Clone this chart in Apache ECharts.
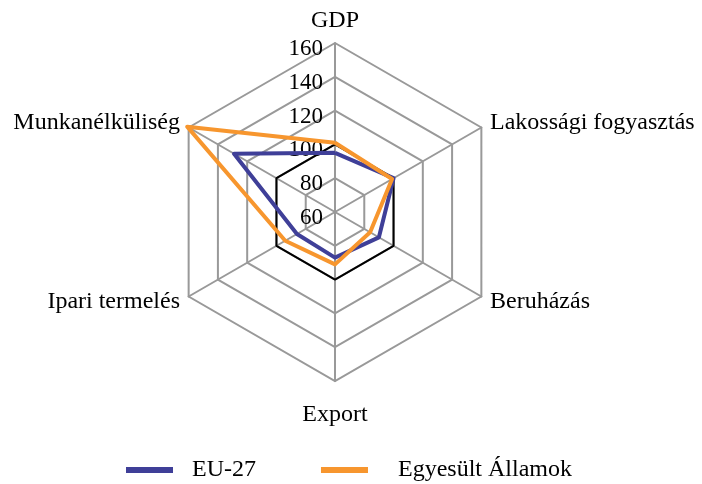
<!DOCTYPE html>
<html>
<head>
<meta charset="utf-8">
<title>Radar</title>
<script src="https://cdn.jsdelivr.net/npm/echarts@6/dist/echarts.min.js"></script>
<style>
  html, body { margin: 0; padding: 0; background: #fff; }
  #container { width: 702px; height: 484px; }
</style>
</head>
<body>
<div id="container"></div>
<script type="text/javascript">
	// indicators in ECharts order (counter-clockwise from the top)
	var indicators = ['GDP', 'Munkanélküliség', 'Ipari termelés', 'Export', 'Beruházás', 'Lakossági fogyasztás'];
	var euValues = [95, 129, 86, 87, 90, 100];
	var usValues = [101, 161, 94, 91, 84, 99];
	var baseValues = [100, 100, 100, 100, 100, 100];
	var seriesNames = ['EU-27', 'Egyesült Államok'];

	var font = '"Liberation Serif", "DejaVu Serif", serif';
	var myChart = echarts.init(document.getElementById('container'));

	var option = {
		animation: false,
		textStyle: { fontFamily: font },
		legend: {
			bottom: -3,
			left: 121,
			itemWidth: 47,
			itemHeight: 6,
			itemGap: 65,
			textStyle: { fontFamily: font, fontSize: 24, color: '#000', padding: [0, 0, 0, 14] },
			data: [
				{ name: seriesNames[0], icon: 'rect' },
				{ name: seriesNames[1], icon: 'rect', textStyle: { padding: [0, 0, 0, 25] } }
			]
		},
		radar: {
			center: [335, 212],
			radius: 169,
			startAngle: 90,
			splitNumber: 5,
			shape: 'polygon',
			nameGap: 10,
			axisName: {
				color: '#000', fontFamily: font, fontSize: 24,
				formatter: function (n) { return n === 'Export' ? '{low|' + n + '}' : n; },
				rich: { low: { fontFamily: font, fontSize: 24, color: '#000', padding: [12, 0, 0, 0] } }
			},
			axisLine: { lineStyle: { color: '#999', width: 2 } },
			splitLine: { lineStyle: { color: '#999', width: 2 } },
			splitArea: { show: false },
			axisLabel: { show: false },
			indicator: indicators.map(function (n, i) {
				var ind = { name: n, min: 60, max: 160 };
				if (i === 0) {
					ind.axisLabel = {
						show: true, margin: 12,
						formatter: '{t|{value}}',
						rich: { t: { color: '#000', fontFamily: font, fontSize: 23, padding: [12, 0, 0, 0] } }
					};
				}
				return ind;
			})
		},
		series: [{
			type: 'radar',
			symbol: 'none',
			silent: true,
			data: [
				{ name: 'base', value: baseValues, lineStyle: { color: '#000', width: 2 }, itemStyle: { color: '#000' } },
				{ name: seriesNames[0], value: euValues, lineStyle: { color: '#3F3F98', width: 4 }, itemStyle: { color: '#3F3F98' } },
				{ name: seriesNames[1], value: usValues, lineStyle: { color: '#F7962E', width: 4 }, itemStyle: { color: '#F7962E' } }
			]
		}]
	};

	myChart.setOption(option);
</script>
</body>
</html>
